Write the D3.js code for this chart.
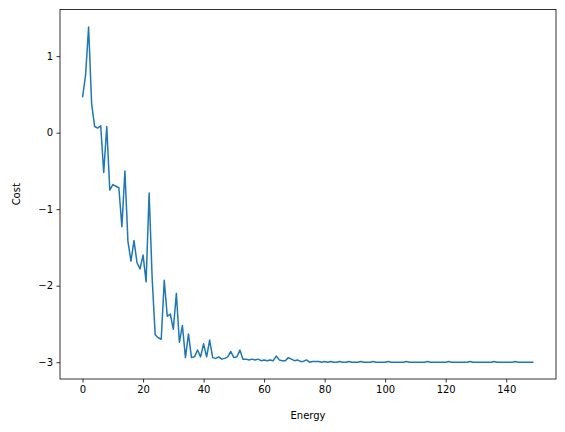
<!DOCTYPE html>
<html>
<head>
<meta charset="utf-8">
<script src="https://cdn.jsdelivr.net/npm/d3@7"></script>
<style>
  body { margin: 0; background: #fff; }
  text { font-family: "DejaVu Sans", sans-serif; }
</style>
</head>
<body>
<svg id="svg" width="565" height="432"></svg>
<script>
// cost per energy step
var costHead = [0.46, 0.75, 1.38, 0.38, 0.08, 0.06, 0.09, -0.52, 0.08, -0.75,
  -0.68, -0.70, -0.72, -1.23, -0.50, -1.42, -1.68, -1.41, -1.70, -1.78,
  -1.60, -1.95, -0.79, -1.90, -2.64, -2.68, -2.70, -1.93, -2.40, -2.37,
  -2.57, -2.10, -2.74, -2.52, -2.94, -2.63, -2.94, -2.93, -2.84, -2.93,
  -2.76, -2.93, -2.71, -2.94, -2.95, -2.93, -2.96, -2.95, -2.93, -2.86,
  -2.94, -2.93, -2.84, -2.96, -2.96, -2.97, -2.96, -2.97, -2.96, -2.98,
  -2.97, -2.98, -2.97, -2.98, -2.92, -2.97, -2.98, -2.98, -2.94, -2.96,
  -2.98, -2.97, -2.99, -2.99, -2.97, -3.00, -2.99, -2.99, -2.99, -3.00];
var costTail = [-2.99, -3.00, -2.99, -3.00, -3.00, -2.99, -3.00, -3.00, -2.99, -3.00,
  -3.00, -3.00, -2.99, -3.00, -3.00, -3.00, -2.99, -3.00, -3.00, -3.00,
  -3.00, -2.99, -3.00, -3.00, -3.00, -3.00, -3.00, -2.99, -3.00, -3.00,
  -3.00, -3.00, -3.00, -3.00, -2.99, -3.00, -3.00, -3.00, -3.00, -3.00,
  -3.00, -2.99, -3.00, -3.00, -3.00, -3.00, -3.00, -3.00, -2.99, -3.00,
  -3.00, -3.00, -3.00, -3.00, -3.00, -3.00, -2.99, -3.00, -3.00, -3.00,
  -3.00, -3.00, -3.00, -2.99, -3.00, -3.00, -3.00, -3.00, -3.00, -3.00];
var cost = costHead.concat(costTail);
var xTicks = [0, 20, 40, 60, 80, 100, 120, 140];
var yTicks = [1, 0, -1, -2, -3];

var svg = d3.select('svg');
var plotLeft = 60, plotRight = 556, plotTop = 9.5, plotBottom = 379;

var xScale = d3.scaleLinear()
  .domain([-7.45, 156.45])
  .range([plotLeft, plotRight]);
var yScale = d3.scaleLinear()
  .domain([-3.2195, 1.6095])
  .range([plotBottom, plotTop]);

svg.append('g')
  .attr('transform', `translate(0, ${plotBottom})`)
  .call(d3.axisBottom(xScale).tickValues(xTicks).tickSize(3.5).tickPadding(3.5))
  .call(g => g.select('.domain').remove());
svg.append('g')
  .attr('transform', `translate(${plotLeft}, 0)`)
  .call(d3.axisLeft(yScale).tickValues(yTicks).tickSize(3.5).tickPadding(3.5)
    .tickFormat(d => d < 0 ? '\u2212' + Math.abs(d) : d))
  .call(g => g.select('.domain').remove());
svg.selectAll('.tick text').attr('font-size', 10).attr('fill', '#000')
  .style('font-family', '"DejaVu Sans", sans-serif');
svg.selectAll('.tick line').attr('stroke', '#000').attr('stroke-width', 0.8);

var line = d3.line()
  .x((d, i) => xScale(i))
  .y(d => yScale(d));
svg.append('path')
  .datum(cost)
  .attr('fill', 'none')
  .attr('stroke', '#1f77b4')
  .attr('stroke-width', 1.5)
  .attr('stroke-linejoin', 'round')
  .attr('d', line);

svg.append('rect')
  .attr('x', plotLeft).attr('y', plotTop)
  .attr('width', plotRight - plotLeft).attr('height', plotBottom - plotTop)
  .attr('fill', 'none').attr('stroke', '#000').attr('stroke-width', 0.8);

svg.append('text')
  .attr('x', (plotLeft + plotRight) / 2).attr('y', 419)
  .attr('text-anchor', 'middle').attr('font-size', 10)
  .text('Energy');
svg.append('text')
  .attr('transform', `translate(20, ${(plotTop + plotBottom) / 2}) rotate(-90)`)
  .attr('text-anchor', 'middle').attr('font-size', 10)
  .text('Cost');
</script>
</body>
</html>
